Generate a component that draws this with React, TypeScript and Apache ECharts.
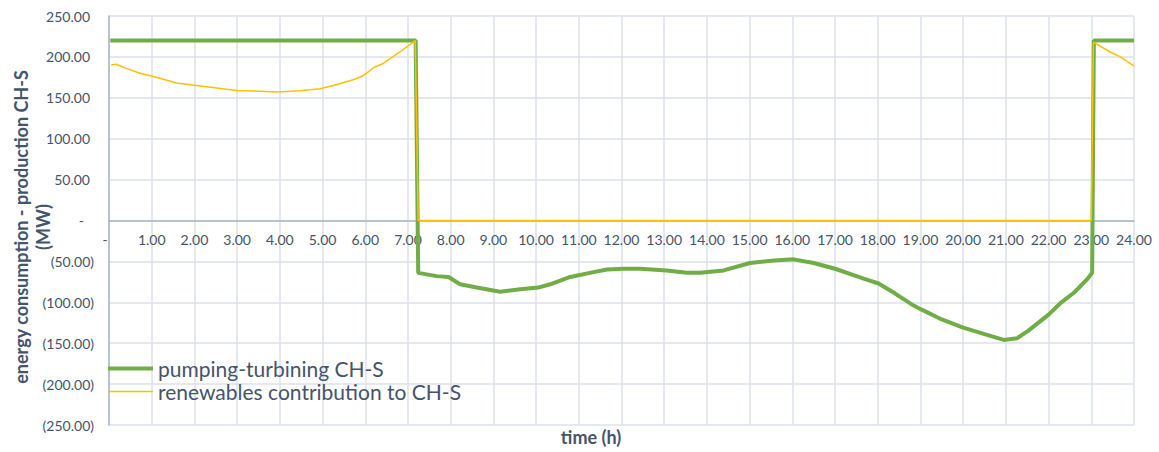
import React, { useEffect, useRef } from "react";
import * as echarts from "echarts";

const pumpTimes = [0.03, 7.18, 7.24, 7.67, 7.95, 8.22, 8.61, 9.16, 9.63, 10.05, 10.33, 10.8, 11.26, 11.66, 12.04, 12.44, 13.06, 13.53, 13.84, 14.39, 15.01, 15.56, 16.03, 16.5, 17.0, 17.67, 18.02, 18.4, 18.84, 19.03, 19.5, 20.0, 20.5, 20.95, 21.26, 21.52, 22.0, 22.3, 22.6, 22.9, 23.02, 23.06, 24.0];
const pumpValues = [220, 220, -64, -68, -69, -78, -82, -87, -84, -82, -78, -69, -64, -60, -59, -59, -61, -64, -64, -61, -52, -49, -47.5, -52, -59, -71, -77, -89, -104, -109, -121, -131, -139, -146, -144, -135, -115, -100, -88, -72, -64, 220, 220];

const renewTimes = [0.05, 0.17, 0.4, 0.73, 1.04, 1.58, 2.05, 2.52, 2.99, 3.54, 3.93, 4.47, 4.94, 5.25, 5.72, 5.95, 6.08, 6.2, 6.42, 6.81, 7.17, 7.24, 23.0, 23.05, 23.44, 23.68, 24.0];
const renewValues = [190, 191, 186, 180, 176, 168, 165, 162, 159, 158, 157, 158.5, 161, 165, 172, 177, 182, 187, 192, 206, 220, 0, 0, 218, 206, 200, 189];

const seriesNames = ["pumping-turbining CH-S", "renewables contribution to CH-S"];
const yAxisTitle = "energy consumption - production CH-S\n(MW)";
const xAxisTitle = "time (h)";

const TEXT = "#44546A";
const FONT = "Lato";

export default function App() {
  const ref = useRef<HTMLDivElement>(null);
  useEffect(() => {
    if (!ref.current) return;
    const chart = echarts.init(ref.current, undefined, { renderer: "svg" });
    const gridTop = 16;
    const gridBottom = 27;
    const plotH = 452 - gridTop - gridBottom;
    const fmtNum = (v: number) => {
      if (v === 0) return "{z|-}";
      if (v < 0) return "{n|(" + Math.abs(v).toFixed(2) + ")}";
      return "{p|" + v.toFixed(2) + "}";
    };
    chart.setOption({
      animation: false,
      backgroundColor: "#ffffff",
      grid: { left: 109, right: 25, top: gridTop, bottom: gridBottom, containLabel: false },
      legend: [
        {
          data: [seriesNames[0]],
          left: 108,
          top: 358,
          padding: 0,
          icon: "rect",
          itemWidth: 45,
          itemHeight: 4,
          textStyle: { color: TEXT, fontFamily: FONT, fontSize: 21 },
        },
        {
          data: [seriesNames[1]],
          left: 108,
          top: 381,
          padding: 0,
          icon: "rect",
          itemWidth: 45,
          itemHeight: 1.5,
          textStyle: { color: TEXT, fontFamily: FONT, fontSize: 21 },
        },
      ],
      xAxis: {
        type: "value",
        min: 0,
        max: 24,
        interval: 1,
        offset: -plotH / 2,
        axisLine: { show: true, onZero: false, lineStyle: { color: "#A9B5C7", width: 1.5 } },
        axisTick: { show: false },
        splitLine: { show: true, lineStyle: { color: "#DDE2EA", width: 1.5 } },
        axisLabel: {
          margin: 12,
          color: TEXT,
          fontFamily: FONT,
          fontSize: 14,
          formatter: (v: number) => (v === 0 ? "{z|-}" : v.toFixed(2)),
          rich: { z: { padding: [0, 8, 0, 0], color: TEXT, fontFamily: FONT, fontSize: 14 } },
        },
      },
      yAxis: {
        type: "value",
        min: -250,
        max: 250,
        interval: 50,
        axisLine: { show: true, onZero: false, lineStyle: { color: "#A9B5C7", width: 1.5 } },
        axisTick: { show: false },
        splitLine: { show: true, lineStyle: { color: "#DDE2EA", width: 1.5 } },
        axisLabel: {
          margin: 15,
          color: TEXT,
          fontFamily: FONT,
          fontSize: 14,
          formatter: fmtNum,
          rich: {
            p: { padding: [0, 4, 0, 0], color: TEXT, fontFamily: FONT, fontSize: 14 },
            n: { color: TEXT, fontFamily: FONT, fontSize: 14 },
            z: { padding: [0, 10, 0, 0], color: TEXT, fontFamily: FONT, fontSize: 14 },
          },
        },
      },
      series: [
        {
          name: seriesNames[0],
          type: "line",
          data: pumpTimes.map((t, i) => [t, pumpValues[i]]),
          showSymbol: false,
          symbol: "none",
          lineStyle: { color: "#70AD47", width: 4 },
          itemStyle: { color: "#70AD47" },
          z: 2,
        },
        {
          name: seriesNames[1],
          type: "line",
          data: renewTimes.map((t, i) => [t, renewValues[i]]),
          showSymbol: false,
          symbol: "none",
          lineStyle: { color: "#FFC000", width: 1.5 },
          itemStyle: { color: "#FFC000" },
          z: 3,
        },
      ],
      graphic: [
        {
          type: "text",
          x: 32,
          y: 227,
          rotation: Math.PI / 2,
          style: {
            text: yAxisTitle,
            fill: TEXT,
            font: "bold 18px Lato",
            align: "center",
            verticalAlign: "middle",
            lineHeight: 22,
          },
        },
        {
          type: "text",
          x: 591,
          y: 437,
          style: {
            text: xAxisTitle,
            fill: TEXT,
            font: "bold 18px Lato",
            align: "center",
            verticalAlign: "middle",
          },
        },
      ],
    });
    return () => chart.dispose();
  }, []);
  return (
    <div
      ref={ref}
      style={{ position: "fixed", left: 0, top: 0, width: 1159, height: 452, background: "#fff" }}
    />
  );
}
